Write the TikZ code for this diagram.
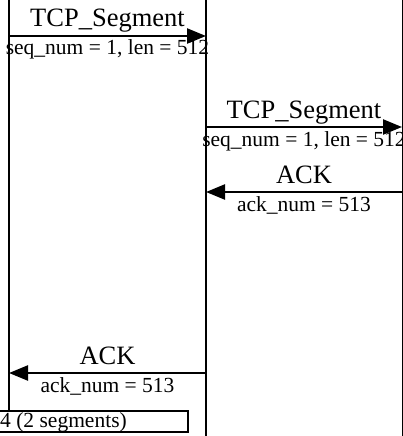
\documentclass[tikz,border=0pt]{standalone}
\usepackage{fontspec}
\setmainfont{Liberation Serif}
\usetikzlibrary{arrows.meta}
\begin{document}
\begin{tikzpicture}[x=1pt,y=-1pt,
  lifeline/.style={line width=1.1pt},
  msg/.style={line width=2.4pt,-{Triangle[length=19pt,width=15pt]}},
  msgname/.style={font=\fontsize{26.5}{26.5}\selectfont,inner sep=0pt,anchor=base,yshift=9pt},
  msgargs/.style={font=\fontsize{21.5}{21.5}\selectfont,inner sep=0pt,anchor=base,yshift=-19pt},
  notebox/.style={draw,line width=2.4pt,inner sep=0pt}
]
\useasboundingbox (0,0) rectangle (403,436);
\clip (0,0) rectangle (403,436);

% lifelines
\coordinate (A0) at (9,0);   \coordinate (A1) at (9,411);
\coordinate (B0) at (206,0); \coordinate (B1) at (206,436);
\coordinate (C0) at (402.5,0); \coordinate (C1) at (402.5,436);
\draw[lifeline] (A0) -- (A1);
\draw[lifeline] (B0) -- (B1);
\draw[lifeline] (C0) -- (C1);

% message anchors on the lifelines
\coordinate (m1s) at (9,36);    \coordinate (m1e) at (206,36);
\coordinate (m2s) at (206,127); \coordinate (m2e) at (402,127);
\coordinate (m3s) at (402,192); \coordinate (m3e) at (206,192);
\coordinate (m4s) at (206,373); \coordinate (m4e) at (9,373);

\draw[msg] (m1s) -- (m1e)
  node[msgname,midway] (l1) {TCP\_Segment}
  node[msgargs,midway] (a1) {seq\_num = 1, len = 512};
\draw[msg] (m2s) -- (m2e)
  node[msgname,midway] (l2) {TCP\_Segment}
  node[msgargs,midway] (a2) {seq\_num = 1, len = 512};
\draw[msg] (m3s) -- (m3e)
  node[msgname,midway] (l3) {ACK}
  node[msgargs,midway] (a3) {ack\_num = 513};
\draw[msg] (m4s) -- (m4e)
  node[msgname,midway] (l4) {ACK}
  node[msgargs,midway] (a4) {ack\_num = 513};

% note box
\draw[notebox] (-60,411) rectangle (188,432);
\node[font=\fontsize{21.5}{21.5}\selectfont,inner sep=0pt,anchor=base west] (note) at (0,427) {4 (2 segments)};
\end{tikzpicture}
\end{document}
